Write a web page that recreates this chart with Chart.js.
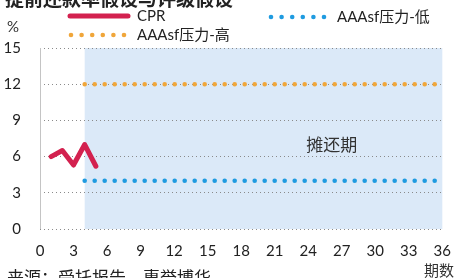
<!DOCTYPE html>
<html>
<head>
<meta charset="utf-8">
<script src="https://cdn.jsdelivr.net/npm/chart.js@4"></script>
<style>
  html, body { margin: 0; padding: 0; background: #fff; }
  #wrap { width: 464px; height: 278px; position: relative; }
</style>
</head>
<body>
<div id="wrap"><canvas id="chart" width="464" height="278"></canvas></div>
<script>
// Data
const cprPeriods = [1, 2, 3, 4, 5];
const cprValues = [6.0, 6.5, 5.3, 7.0, 5.2];
const stressPeriods = [4, 36];
const stressLow = [4, 4];
const stressHigh = [12, 12];
const amortStart = 4;
const xTicks = [0, 3, 6, 9, 12, 15, 18, 21, 24, 27, 30, 33, 36];
const yTicks = [0, 3, 6, 9, 12, 15];

const FONT = "Lato, 'Noto Sans CJK SC', sans-serif";
const CJK = "'Noto Sans CJK SC', sans-serif";

const toPoints = (xs, ys) => xs.map((x, i) => ({ x: x, y: ys[i] }));

// Shade the amortisation period and draw the extra texts
const extrasPlugin = {
    id: 'extras',
    beforeDraw(chart) {
        const { ctx, chartArea, scales } = chart;
        const x0 = scales.x.getPixelForValue(amortStart);
        ctx.save();
        ctx.fillStyle = '#dbe9f8';
        ctx.fillRect(x0, chartArea.top, chartArea.right - x0, chartArea.bottom - chartArea.top);
        ctx.restore();
    },
    beforeDatasetsDraw(chart) {
        const { ctx, chartArea } = chart;
        ctx.save();
        ctx.strokeStyle = '#c4c4c4';
        ctx.lineWidth = 1;
        ctx.beginPath();
        ctx.moveTo(chartArea.left + 0.5, chartArea.top);
        ctx.lineTo(chartArea.left + 0.5, chartArea.bottom);
        ctx.stroke();
        ctx.restore();
    },
    afterDraw(chart) {
        const { ctx, scales } = chart;
        ctx.save();
        // title (cut off at the top)
        ctx.fillStyle = '#222';
        ctx.font = "bold 19px " + CJK;
        ctx.textBaseline = 'alphabetic';
        ctx.textAlign = 'left';
        ctx.fillText('提前还款率假设与评级假设', 5, 6);

        // unit
        ctx.font = '15px ' + FONT;
        ctx.fillStyle = '#333';
        ctx.textAlign = 'center';
        ctx.textBaseline = 'middle';
        ctx.fillText('%', 13, 27);

        // period label
        ctx.font = '17px ' + CJK;
        ctx.fillStyle = '#333';
        ctx.fillText('摊还期', scales.x.getPixelForValue(26.1), scales.y.getPixelForValue(7));

        // x axis title
        ctx.font = '15px ' + CJK;
        ctx.textBaseline = 'alphabetic';
        ctx.fillText('期数', 439, 276);

        // source (cut off at the bottom)
        ctx.textAlign = 'left';
        ctx.font = '17px ' + CJK;
        ctx.fillStyle = '#222';
        ctx.fillText('来源：受托报告，惠誉博华', 7, 284);

        // legend
        const ds = chart.data.datasets;
        const items = [
            { d: ds[0], x: 70, y: 16 },
            { d: ds[1], x: 270, y: 17 },
            { d: ds[2], x: 70, y: 35 }
        ];
        items.forEach(it => {
            ctx.strokeStyle = it.d.borderColor;
            ctx.lineCap = 'round';
            if (it.d.borderDash && it.d.borderDash.length) {
                ctx.fillStyle = it.d.borderColor;
                for (let i = 0; i < 6; i++) {
                    ctx.beginPath();
                    ctx.arc(it.x + 1 + i * 10.6, it.y, 2.3, 0, Math.PI * 2);
                    ctx.fill();
                }
            } else {
                ctx.lineWidth = 5;
                ctx.beginPath();
                ctx.moveTo(it.x, it.y);
                ctx.lineTo(it.x + 58, it.y);
                ctx.stroke();
            }
            ctx.fillStyle = '#222';
            ctx.font = '15px ' + FONT;
            ctx.textBaseline = 'middle';
            ctx.fillText(it.d.label, it.x + 67, it.y);
        });
        ctx.restore();
    }
};

new Chart(document.getElementById('chart'), {
    type: 'line',
    data: {
        datasets: [
            {
                label: 'CPR',
                data: toPoints(cprPeriods, cprValues),
                borderColor: '#d3214f',
                borderWidth: 5,
                pointRadius: 0,
                borderCapStyle: 'round',
                borderJoinStyle: 'round',
                tension: 0
            },
            {
                label: 'AAAsf压力-低',
                data: toPoints(stressPeriods, stressLow),
                borderColor: '#1f9be0',
                borderWidth: 4.6,
                borderDash: [0, 10],
                borderCapStyle: 'round',
                pointRadius: 0
            },
            {
                label: 'AAAsf压力-高',
                data: toPoints(stressPeriods, stressHigh),
                borderColor: '#f0a63a',
                borderWidth: 4.6,
                borderDash: [0, 10],
                borderCapStyle: 'round',
                pointRadius: 0
            }
        ]
    },
    options: {
        responsive: false,
        animation: false,
        layout: { padding: { top: 48, right: 15, left: 0, bottom: 0 } },
        plugins: { legend: { display: false }, tooltip: { enabled: false } },
        scales: {
            x: {
                type: 'linear',
                min: 0,
                max: 36,
                afterBuildTicks: (s) => { s.ticks = xTicks.map(v => ({ value: v })); },
                afterFit: (s) => { s.height = 49; },
                grid: { display: false, drawTicks: false },
                border: { display: false },
                ticks: { padding: 13, color: '#222', font: { size: 15, family: FONT } }
            },
            y: {
                min: 0,
                max: 15,
                afterBuildTicks: (s) => { s.ticks = yTicks.map(v => ({ value: v })); },
                afterFit: (s) => { s.width = 40; },
                grid: { color: '#8a8a8a', lineWidth: 1, drawTicks: false },
                border: { display: false, dash: [1, 3] },
                ticks: { padding: 19, color: '#222', font: { size: 15, family: FONT } }
            }
        }
    },
    plugins: [extrasPlugin]
});
</script>
</body>
</html>
